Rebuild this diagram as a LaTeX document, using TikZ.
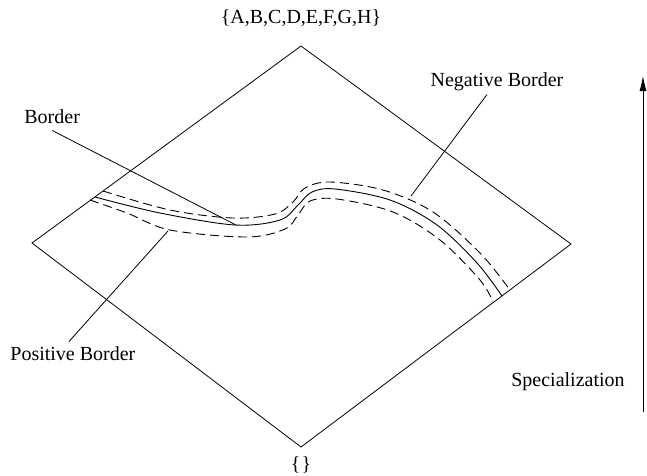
\documentclass[tikz,border=0pt]{standalone}
\usepackage{fontspec}
\setmainfont{Liberation Serif}
\usetikzlibrary{arrows.meta}
\begin{document}
\begin{tikzpicture}[x=1pt,y=-1pt,line width=0.8pt,
  lbl/.style={font=\fontsize{20}{24}\selectfont,inner sep=0pt},
  leader/.style={line width=0.8pt},
  bordercurve/.style={line width=0.9pt,smooth,tension=0.55},
  offcurve/.style={line width=0.9pt,dash pattern=on 9pt off 5pt,smooth,tension=0.55}]
\useasboundingbox (0,0) rectangle (647,475);

% lattice diamond
\coordinate (T) at (301,46);
\coordinate (R) at (571,244);
\coordinate (B) at (301,447);
\coordinate (L) at (32,243);
\draw (T) -- (R) -- (B) -- (L) -- cycle;

% top and bottom elements
\node[lbl] (top) at (301,18) {\{A,B,C,D,E,F,G,H\}};
\node[lbl] (bot) at (301,465) {\{\kern1pt\}};

% the border and its two sides
\draw[bordercurve] plot coordinates {(95,197) (160,213) (235,225) (280,220) (298,205) (312,192) (335,189) (390,200) (437,225) (477,263) (502,296)};
\draw[offcurve] plot coordinates {(103,191) (170,210) (233,218) (275,214) (293,202) (305,188) (330,182) (383,190) (433,212) (480,253) (510,290)};
\draw[offcurve] plot coordinates {(90,200) (127,213) (170,230) (247,237) (285,229) (298,215) (310,201) (337,199) (393,212) (440,240) (480,280) (493,302)};

% points where the leaders touch the curves
\coordinate (bpt) at (236,225);
\coordinate (npt) at (411,196);
\coordinate (ppt) at (168,231);

% labels and leaders
\node[lbl,anchor=west] (bl) at (24,117) {Border};
\node[lbl] (nl) at (497,82) {Negative Border};
\node[lbl,anchor=west] (pl) at (10,354) {Positive Border};
\draw[leader] ([yshift=-6pt]bl.south) -- (bpt);
\draw[leader] ([xshift=-10pt,yshift=-3pt]nl.south) -- (npt);
\draw[leader] ([xshift=-4pt,yshift=5pt]pl.north) -- (ppt);

% specialization direction
\node[lbl,anchor=east] (sl) at (625,382) {Specialization};
\coordinate (a0) at (643,412);
\coordinate (a1) at (643,76);
\draw[-{Latex[length=15pt,width=7pt]}] (a0) -- (a1);
\end{tikzpicture}
\end{document}
